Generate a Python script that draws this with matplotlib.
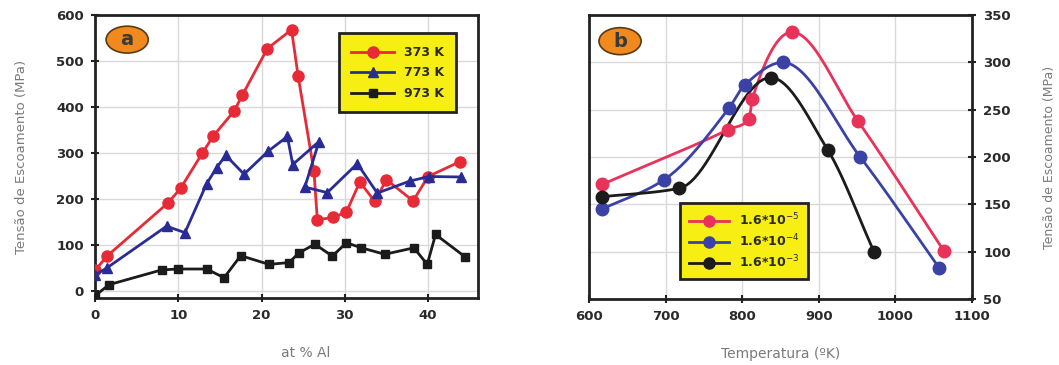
import matplotlib
matplotlib.use("Agg")
import matplotlib.pyplot as plt
from matplotlib.patches import Ellipse
import numpy as np

# panel a: yield stress vs at % Al
al_373 = [0, 1.5, 8.8, 10.3, 12.9, 14.2, 16.7, 17.7, 20.7, 23.6, 24.4, 26.3, 26.7,
          28.6, 30.2, 31.8, 33.6, 35.0, 38.2, 40.0, 43.8]
s_373 = [45, 77, 192, 224, 300, 337, 391, 426, 527, 568, 467, 260, 155,
         160, 172, 237, 195, 242, 196, 249, 281]

al_773 = [0, 1.4, 8.6, 10.8, 13.4, 14.6, 15.7, 17.9, 20.8, 23.1, 23.75, 26.9, 25.2,
          27.9, 31.5, 33.9, 37.8, 40.1, 43.9]
s_773 = [35, 50, 141, 127, 233, 268, 295, 254, 304, 336, 275, 325, 226,
         214, 277, 213, 239, 249, 248]

al_973 = [0, 1.7, 8.0, 10.0, 13.4, 15.5, 17.5, 20.9, 23.3, 24.5, 26.4, 28.5, 30.2,
          32.0, 34.8, 38.3, 39.9, 40.9, 44.4]
s_973 = [-10, 14, 46, 48, 48, 29, 77, 58, 62, 83, 102, 76, 105,
         94, 80, 94, 58, 123, 75]

# panel b: yield stress vs temperature
t_r1 = [617, 782, 809, 813, 865, 951, 1063]
s_r1 = [171, 229, 240, 261, 332, 238, 101]
t_r2 = [617, 698, 783, 803, 853, 954, 1057]
s_r2 = [145, 176, 252, 276, 300, 200, 83]
t_r3 = [617, 718, 837, 912, 972]
s_r3 = [158, 167, 284, 207, 100]

labels_a = ["373 K", "773 K", "973 K"]
labels_b = ["1.6*10$^{-5}$", "1.6*10$^{-4}$", "1.6*10$^{-3}$"]

RED = "#e62b36"
BLUE = "#2a2c96"
BLACK = "#1b1b1b"
PINK = "#e8325a"
BLUE2 = "#3b42a6"
YELLOW = "#f7ee14"
TXT = "#2a2a2a"
GREY_LAB = "#7a7a7a"

plt.rcParams["font.family"] = ["DejaVu Sans"]


def smooth(x, y, n=25):
    # monotone cubic (Fritsch-Carlson) through the points, only for the drawn line
    x = np.asarray(x, float)
    y = np.asarray(y, float)
    h = np.diff(x)
    d = np.diff(y) / h
    m = np.zeros_like(y)
    m[0], m[-1] = d[0], d[-1]
    for i in range(1, len(x) - 1):
        if d[i - 1] * d[i] > 0:
            w1 = 2 * h[i] + h[i - 1]
            w2 = h[i] + 2 * h[i - 1]
            m[i] = (w1 + w2) / (w1 / d[i - 1] + w2 / d[i])
    xs, ys = [], []
    for i in range(len(x) - 1):
        t = np.linspace(0, 1, n)
        h00 = 2 * t ** 3 - 3 * t ** 2 + 1
        h10 = t ** 3 - 2 * t ** 2 + t
        h01 = -2 * t ** 3 + 3 * t ** 2
        h11 = t ** 3 - t ** 2
        xs.extend(x[i] + t * h[i])
        ys.extend(h00 * y[i] + h10 * h[i] * m[i] + h01 * y[i + 1] + h11 * h[i] * m[i + 1])
    return xs, ys


def style_axes(ax):
    for s in ax.spines.values():
        s.set_linewidth(2)
        s.set_color("#222222")
    ax.grid(True, color="#d9d9d9", linewidth=1)
    ax.set_axisbelow(True)
    ax.tick_params(direction="inout", length=6, width=1.5, color="#222222",
                   labelsize=9.5, labelcolor=TXT, pad=5)
    for lab in ax.get_xticklabels() + ax.get_yticklabels():
        lab.set_fontweight("bold")


def badge(ax, x, y, letter):
    ax.add_patch(Ellipse((x, y), 0.11, 0.095, transform=ax.transAxes,
                         facecolor="#f08a1f", edgecolor="#5a3a10", linewidth=1.2,
                         zorder=5))
    ax.text(x, y, letter, transform=ax.transAxes, ha="center", va="center",
            fontsize=14, fontweight="bold", color="#3a3a3a", zorder=6)


fig = plt.figure(figsize=(10.59, 3.65), dpi=100)
ax1 = fig.add_axes([0.0897, 0.1836, 0.3617, 0.7753])
ax2 = fig.add_axes([0.5562, 0.1808, 0.3617, 0.778])

# ---- panel a
ax1.plot(al_373, s_373, color=RED, lw=2, marker="o", ms=8, label=labels_a[0], zorder=3)
ax1.plot(al_773, s_773, color=BLUE, lw=2, marker="^", ms=7.5, label=labels_a[1], zorder=3)
ax1.plot(al_973, s_973, color=BLACK, lw=2, marker="s", ms=5.5, label=labels_a[2], zorder=3)
ax1.set_xlim(0, 46)
ax1.set_ylim(-15, 600)
ax1.set_xticks([0, 10, 20, 30, 40])
ax1.set_yticks([0, 100, 200, 300, 400, 500, 600])
style_axes(ax1)
ax1.set_xlabel("at % Al", fontsize=10, color=GREY_LAB)
ax1.xaxis.set_label_coords(0.55, -0.17)
ax1.set_ylabel("Tensão de Escoamento (MPa)", fontsize=9.5, color=GREY_LAB)
ax1.yaxis.set_label_coords(-0.175, 0.5)
leg1 = ax1.legend(loc="upper right", bbox_to_anchor=(0.96, 0.957), frameon=True,
                  fancybox=False, facecolor=YELLOW, edgecolor="#222222",
                  handlelength=3.4, borderpad=1.0, labelspacing=0.6,
                  prop={"weight": "bold", "size": 9})
leg1.get_frame().set_linewidth(2)
leg1.get_frame().set_alpha(1)
for t in leg1.get_texts():
    t.set_color(TXT)
badge(ax1, 0.084, 0.913, "a")

# ---- panel b
for tx, sy, c, lab in ((t_r1, s_r1, PINK, labels_b[0]),
                       (t_r2, s_r2, BLUE2, labels_b[1]),
                       (t_r3, s_r3, BLACK, labels_b[2])):
    xs, ys = smooth(tx, sy)
    ax2.plot(xs, ys, color=c, lw=2, zorder=3)
    ax2.plot(tx, sy, linestyle="none", marker="o", ms=9, color=c, zorder=4)
    ax2.plot([], [], color=c, lw=2, marker="o", ms=8, label=lab)
ax2.set_xlim(600, 1100)
ax2.set_ylim(50, 350)
ax2.set_xticks([600, 700, 800, 900, 1000, 1100])
ax2.set_yticks([50, 100, 150, 200, 250, 300, 350])
ax2.yaxis.tick_right()
ax2.yaxis.set_label_position("right")
style_axes(ax2)
ax2.set_xlabel("Temperatura (ºK)", fontsize=10, color=GREY_LAB)
ax2.xaxis.set_label_coords(0.5, -0.17)
ax2.set_ylabel("Tensão de Escoamento (MPa)", fontsize=9, color=GREY_LAB)
ax2.yaxis.set_label_coords(1.185, 0.5)
leg2 = ax2.legend(loc="upper left", bbox_to_anchor=(0.222, 0.36), frameon=True,
                  fancybox=False, facecolor=YELLOW, edgecolor="#222222",
                  handlelength=3.2, borderpad=0.7, labelspacing=0.35,
                  prop={"weight": "bold", "size": 9})
leg2.get_frame().set_linewidth(2)
leg2.get_frame().set_alpha(1)
for t in leg2.get_texts():
    t.set_color(TXT)
badge(ax2, 0.081, 0.908, "b")

fig.savefig("out.png", dpi=100)
